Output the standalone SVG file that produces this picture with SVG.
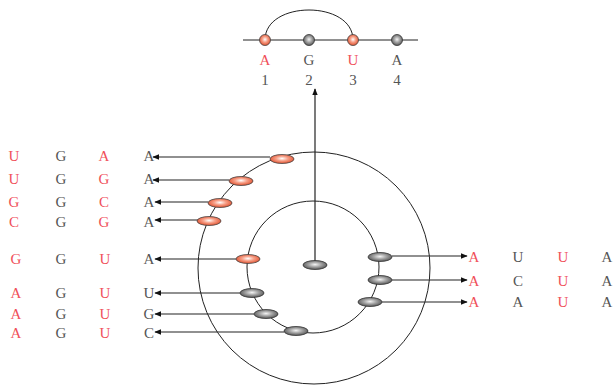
<svg xmlns="http://www.w3.org/2000/svg" width="613" height="385" viewBox="0 0 613 385">
<style>
.t{font-family:"Liberation Serif",serif;font-size:15px;text-anchor:middle}
.r{fill:#f0505a}
.g{fill:#555}
.ln{stroke:#222;stroke-width:1;fill:none}
.ar{stroke:#222;stroke-width:1.2;fill:none;marker-end:url(#ah)}
.on{fill:url(#og);stroke:#444;stroke-width:0.8}
.gn{fill:url(#gg);stroke:#333;stroke-width:0.8}
</style>
<defs>
<radialGradient id="og" cx="0.5" cy="0.45" r="0.55">
<stop offset="0" stop-color="#fff"/>
<stop offset="0.45" stop-color="#f7a088"/>
<stop offset="1" stop-color="#e0502e"/>
</radialGradient>
<radialGradient id="gg" cx="0.5" cy="0.45" r="0.55">
<stop offset="0" stop-color="#f4f4f4"/>
<stop offset="0.45" stop-color="#a8a8a8"/>
<stop offset="1" stop-color="#555"/>
</radialGradient>
<marker id="ah" viewBox="0 0 10 10" refX="9" refY="5" markerWidth="7" markerHeight="7" markerUnits="userSpaceOnUse" orient="auto">
<path d="M0,1 L10,5 L0,9 z" fill="#111"/>
</marker>
</defs>

<g id="rings">
<circle cx="314" cy="268" r="116" class="ln"/>
<circle cx="313" cy="267" r="66" class="ln"/>
</g>

<g id="connectors">
<line x1="243" y1="40" x2="418" y2="40" class="ln"/>
<path d="M265,40 C265,0 353,0 353,40" class="ln"/>
<line x1="315" y1="262" x2="315" y2="89" class="ar"/>
<line x1="270" y1="157" x2="153" y2="157" class="ar"/>
<line x1="229" y1="180" x2="153" y2="180" class="ar"/>
<line x1="208" y1="202" x2="155" y2="202" class="ar"/>
<line x1="198" y1="220" x2="155" y2="220" class="ar"/>
<line x1="236" y1="259" x2="155" y2="259" class="ar"/>
<line x1="240" y1="293" x2="155" y2="293" class="ar"/>
<line x1="254" y1="314" x2="155" y2="314" class="ar"/>
<line x1="284" y1="332" x2="155" y2="332" class="ar"/>
<line x1="392" y1="256" x2="467" y2="256" class="ar"/>
<line x1="392" y1="280" x2="467" y2="280" class="ar"/>
<line x1="382" y1="302" x2="467" y2="302" class="ar"/>
</g>

<g id="top-nodes">
<circle cx="265" cy="40" r="5.5" class="on"/>
<circle cx="309" cy="40" r="5.5" class="gn"/>
<circle cx="353" cy="40" r="5.5" class="on"/>
<circle cx="397" cy="40" r="5.5" class="gn"/>
</g>
<g id="top-labels">
<text x="265" y="65" class="t r">A</text>
<text x="309" y="65" class="t g">G</text>
<text x="353" y="65" class="t r">U</text>
<text x="397" y="65" class="t g">A</text>
<text x="265" y="85" class="t g">1</text>
<text x="309" y="85" class="t g">2</text>
<text x="353" y="85" class="t g">3</text>
<text x="397" y="85" class="t g">4</text>
</g>

<g id="center-node"><ellipse cx="315" cy="265" rx="12" ry="4.5" class="gn"/></g>

<g id="outer-nodes">
<ellipse cx="282" cy="159" rx="12" ry="4.5" class="on"/>
<ellipse cx="241" cy="181" rx="12" ry="4.5" class="on"/>
<ellipse cx="220" cy="203" rx="12" ry="4.5" class="on"/>
<ellipse cx="209" cy="221" rx="12" ry="4.5" class="on"/>
</g>
<g id="inner-left-nodes">
<ellipse cx="248" cy="259" rx="12" ry="4.5" class="on"/>
<ellipse cx="252" cy="293" rx="12" ry="4.5" class="gn"/>
<ellipse cx="266" cy="314" rx="12" ry="4.5" class="gn"/>
<ellipse cx="296" cy="331" rx="12" ry="4.5" class="gn"/>
</g>
<g id="inner-right-nodes">
<ellipse cx="380" cy="257" rx="12" ry="4.5" class="gn"/>
<ellipse cx="380" cy="280" rx="12" ry="4.5" class="gn"/>
<ellipse cx="370" cy="302" rx="12" ry="4.5" class="gn"/>
</g>

<g id="left-labels">
<text x="14" y="161" class="t r">U</text><text x="61" y="161" class="t g">G</text><text x="104" y="161" class="t r">A</text><text x="149" y="161" class="t g">A</text>
<text x="14" y="184" class="t r">U</text><text x="61" y="184" class="t g">G</text><text x="104" y="184" class="t r">G</text><text x="149" y="184" class="t g">A</text>
<text x="14" y="207" class="t r">G</text><text x="61" y="207" class="t g">G</text><text x="104" y="207" class="t r">C</text><text x="149" y="207" class="t g">A</text>
<text x="14" y="227" class="t r">C</text><text x="61" y="227" class="t g">G</text><text x="104" y="227" class="t r">G</text><text x="149" y="227" class="t g">A</text>
<text x="16" y="264" class="t r">G</text><text x="61" y="264" class="t g">G</text><text x="105" y="264" class="t r">U</text><text x="149" y="264" class="t g">A</text>
<text x="16" y="298" class="t r">A</text><text x="61" y="298" class="t g">G</text><text x="105" y="298" class="t r">U</text><text x="149" y="298" class="t g">U</text>
<text x="16" y="319" class="t r">A</text><text x="61" y="319" class="t g">G</text><text x="105" y="319" class="t r">U</text><text x="149" y="319" class="t g">G</text>
<text x="16" y="338" class="t r">A</text><text x="61" y="338" class="t g">G</text><text x="105" y="338" class="t r">U</text><text x="149" y="338" class="t g">C</text>
</g>
<g id="right-labels">
<text x="474" y="262" class="t r">A</text><text x="518" y="262" class="t g">U</text><text x="563" y="262" class="t r">U</text><text x="607" y="262" class="t g">A</text>
<text x="474" y="286" class="t r">A</text><text x="518" y="286" class="t g">C</text><text x="563" y="286" class="t r">U</text><text x="607" y="286" class="t g">A</text>
<text x="474" y="307" class="t r">A</text><text x="518" y="307" class="t g">A</text><text x="563" y="307" class="t r">U</text><text x="607" y="307" class="t g">A</text>
</g>
</svg>
